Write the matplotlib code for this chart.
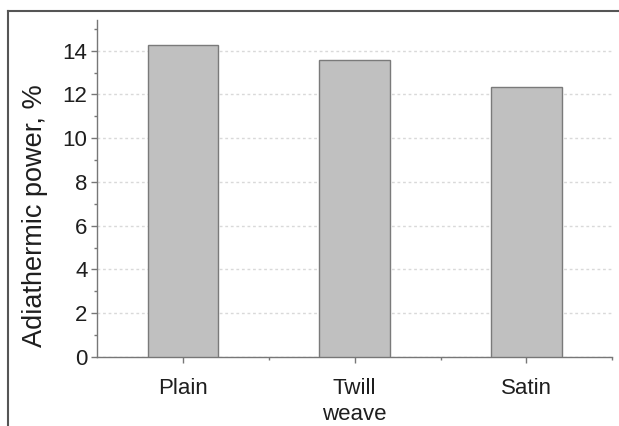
import matplotlib
matplotlib.use("Agg")
import matplotlib.pyplot as plt
from matplotlib.lines import Line2D
from matplotlib.ticker import MultipleLocator, FixedLocator

categories = ["Plain", "Twill", "Satin"]
values = [14.28, 13.58, 12.33]
xlabel = "weave"
ylabel = "Adiathermic power, %"

plt.rcParams['font.family'] = ['Liberation Sans', 'DejaVu Sans']

fig = plt.figure(figsize=(6.19, 4.26), dpi=100)
ax = fig.add_axes([0.157, 0.162, 0.832, 0.791])

x = list(range(len(categories)))
ax.bar(x, values, width=0.41, color="#c0c0c0", edgecolor="#7a7a7a", linewidth=1.0, zorder=3)

ax.set_xlim(-0.5, 2.5)
ax.set_ylim(0, 15.4)
ax.yaxis.set_major_locator(MultipleLocator(2))
ax.yaxis.set_minor_locator(MultipleLocator(1))
ax.set_xticks(x)
ax.set_xticklabels(categories)
ax.xaxis.set_minor_locator(FixedLocator([0.5, 1.5, 2.5]))

for s in ["top", "right"]:
    ax.spines[s].set_visible(False)
for s in ["left", "bottom"]:
    ax.spines[s].set_color("#777777")
    ax.spines[s].set_linewidth(1.0)

ax.tick_params(axis="both", which="major", direction="out", length=4, width=1, color="#777777",
               labelsize=16, labelcolor="#1e1e1e")
ax.tick_params(axis="both", which="minor", direction="out", length=2.5, width=1, color="#777777")
ax.tick_params(axis="x", which="major", pad=11)
ax.tick_params(axis="y", which="major", pad=3)

ax.yaxis.grid(True, which="major", linestyle=(0, (2, 2)), color="#d9d9d9", linewidth=1.0, zorder=0)
ax.set_axisbelow(True)

ax.set_xlabel(xlabel, fontsize=16, color="#1e1e1e", labelpad=4)
ax.set_ylabel(ylabel, fontsize=19.5, color="#1e1e1e")
ax.yaxis.set_label_coords(-0.095, 0.42)

# figure frame: top and left edges
fig.add_artist(Line2D([8/619, 1.0], [1 - 11/426, 1 - 11/426], transform=fig.transFigure,
                      color="#555555", linewidth=1.5))
fig.add_artist(Line2D([8/619, 8/619], [0.0, 1 - 11/426], transform=fig.transFigure,
                      color="#555555", linewidth=1.5))

fig.savefig("out.png", dpi=100)
